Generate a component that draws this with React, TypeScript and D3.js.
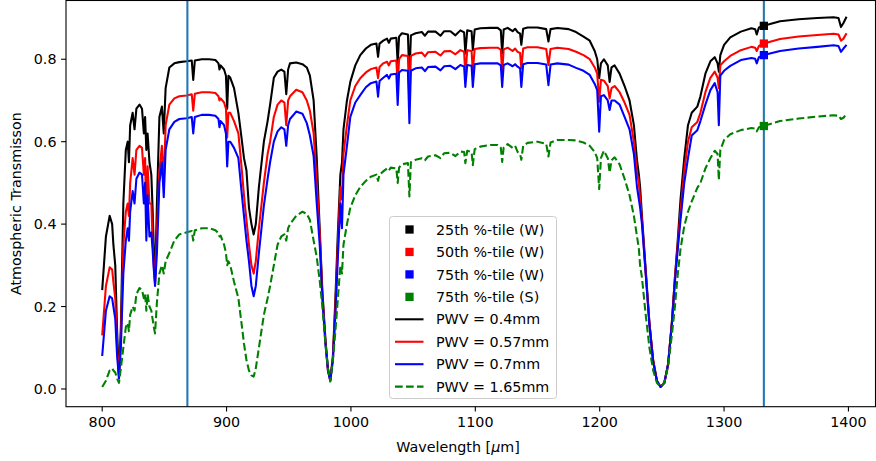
import React from 'react';
import * as d3 from 'd3';

const wavelengths = [
  800, 803, 806, 808, 809, 810.5, 812, 813.5, 815, 817,
  819, 820.5, 821.5, 822.5, 824.5, 826, 827.5, 830, 832, 833.5,
  834.5, 835.5, 836.5, 838, 839.5, 840.5, 841.5, 842.5, 844, 846,
  848, 849.5, 851, 854, 858, 862, 868, 872, 873.2, 874.5,
  880, 886, 891, 893.5, 894.3, 895.2, 898, 899.5, 900.5, 901.5,
  903, 906, 909.5, 912, 914, 916, 918, 920, 921.8, 923.5,
  926, 930, 933, 935, 938, 941, 944, 946.5, 948, 949.5,
  951, 956, 961, 964.5, 967, 970, 972.5, 975, 977, 979.5,
  981.5, 983.4, 985.5, 987.5, 989.5, 991.5, 992.8, 994, 996.8, 999.5,
  1003.5, 1007.5, 1012, 1016, 1020.5, 1021.8, 1023, 1026, 1029, 1030.5,
  1032, 1036.5, 1037.6, 1038.7, 1041, 1045.8, 1047, 1048.2, 1052, 1057,
  1059.5, 1062, 1068, 1072, 1075, 1080, 1084, 1088, 1091, 1092,
  1093.5, 1097, 1098, 1099.5, 1104, 1112, 1118, 1120.5, 1121.6, 1122.8,
  1126, 1130, 1132, 1134, 1136, 1137, 1138.5, 1142, 1150, 1157,
  1158.8, 1160.5, 1166, 1175, 1181, 1187, 1192, 1196, 1198, 1199.6,
  1201, 1203.4, 1206.5, 1208, 1209.5, 1212, 1216, 1220, 1224, 1227.5,
  1230, 1231.5, 1232.5, 1234, 1237, 1240, 1243, 1246, 1249, 1252,
  1255, 1258, 1260.5, 1262.5, 1265, 1268, 1271, 1274, 1278.5, 1281,
  1285, 1289, 1292.5, 1294.8, 1295.8, 1297, 1300, 1305, 1313.5, 1322,
  1325, 1326.3, 1328, 1332, 1345, 1360, 1375, 1388, 1392, 1394,
  1396, 1398.5,
];

const pwv040 = [
  0.24, 0.37, 0.42, 0.40, 0.35, 0.30, 0.14, 0.03, 0.15, 0.45,
  0.58, 0.60, 0.55, 0.64, 0.67, 0.63, 0.68, 0.69, 0.68, 0.62,
  0.66, 0.58, 0.62, 0.55, 0.52, 0.44, 0.34, 0.26, 0.45, 0.66,
  0.685, 0.62, 0.73, 0.78, 0.79, 0.793, 0.795, 0.797, 0.75, 0.797,
  0.80, 0.80, 0.798, 0.79, 0.775, 0.785, 0.775, 0.76, 0.68, 0.76,
  0.755, 0.73, 0.67, 0.61, 0.56, 0.53, 0.44, 0.40, 0.375, 0.40,
  0.49, 0.60, 0.65, 0.69, 0.755, 0.77, 0.775, 0.77, 0.715, 0.775,
  0.79, 0.792, 0.788, 0.78, 0.76, 0.70, 0.56, 0.38, 0.24, 0.12,
  0.05, 0.022, 0.08, 0.22, 0.38, 0.52, 0.55, 0.63, 0.70, 0.745,
  0.785, 0.81, 0.826, 0.835, 0.838, 0.806, 0.838, 0.845, 0.85, 0.84,
  0.85, 0.852, 0.79, 0.855, 0.863, 0.86, 0.754, 0.858, 0.863, 0.866,
  0.857, 0.867, 0.867, 0.857, 0.868, 0.868, 0.858, 0.87, 0.865, 0.814,
  0.87, 0.868, 0.822, 0.872, 0.875, 0.876, 0.876, 0.87, 0.814, 0.872,
  0.876, 0.868, 0.874, 0.866, 0.862, 0.835, 0.874, 0.877, 0.877, 0.873,
  0.843, 0.873, 0.876, 0.873, 0.866, 0.855, 0.845, 0.82, 0.80, 0.754,
  0.79, 0.80, 0.785, 0.745, 0.78, 0.785, 0.765, 0.735, 0.70, 0.64,
  0.555, 0.52, 0.49, 0.42, 0.29, 0.16, 0.07, 0.02, 0.005, 0.015,
  0.06, 0.16, 0.27, 0.35, 0.46, 0.56, 0.64, 0.67, 0.685, 0.71,
  0.765, 0.795, 0.805, 0.79, 0.77, 0.81, 0.835, 0.853, 0.867, 0.875,
  0.873, 0.86, 0.877, 0.881, 0.892, 0.897, 0.90, 0.902, 0.90, 0.878,
  0.888, 0.903,
];

const pwv057 = [
  0.13, 0.25, 0.295, 0.29, 0.26, 0.22, 0.10, 0.03, 0.12, 0.35,
  0.43, 0.45, 0.42, 0.50, 0.56, 0.52, 0.58, 0.59, 0.585, 0.52,
  0.56, 0.40, 0.54, 0.45, 0.45, 0.36, 0.30, 0.255, 0.38, 0.53,
  0.59, 0.50, 0.64, 0.69, 0.705, 0.71, 0.712, 0.715, 0.675, 0.716,
  0.72, 0.72, 0.718, 0.71, 0.70, 0.705, 0.695, 0.68, 0.61, 0.67,
  0.67, 0.65, 0.62, 0.54, 0.47, 0.41, 0.35, 0.30, 0.28, 0.31,
  0.39, 0.50, 0.57, 0.60, 0.66, 0.69, 0.70, 0.695, 0.64, 0.70,
  0.71, 0.726, 0.72, 0.70, 0.675, 0.62, 0.50, 0.37, 0.23, 0.115,
  0.045, 0.02, 0.075, 0.20, 0.35, 0.49, 0.46, 0.57, 0.64, 0.70,
  0.735, 0.754, 0.768, 0.776, 0.78, 0.754, 0.781, 0.79, 0.794, 0.785,
  0.795, 0.797, 0.737, 0.80, 0.81, 0.808, 0.697, 0.808, 0.814, 0.816,
  0.807, 0.817, 0.818, 0.809, 0.819, 0.82, 0.812, 0.822, 0.818, 0.758,
  0.822, 0.82, 0.77, 0.825, 0.827, 0.828, 0.828, 0.823, 0.766, 0.824,
  0.828, 0.82, 0.826, 0.818, 0.815, 0.778, 0.826, 0.829, 0.829, 0.825,
  0.786, 0.825, 0.828, 0.825, 0.818, 0.81, 0.80, 0.78, 0.765, 0.697,
  0.75, 0.748, 0.735, 0.705, 0.73, 0.735, 0.72, 0.695, 0.665, 0.60,
  0.525, 0.50, 0.46, 0.41, 0.28, 0.16, 0.07, 0.02, 0.005, 0.015,
  0.06, 0.16, 0.27, 0.34, 0.43, 0.53, 0.60, 0.635, 0.648, 0.67,
  0.72, 0.755, 0.77, 0.755, 0.73, 0.785, 0.795, 0.808, 0.822, 0.83,
  0.828, 0.82, 0.832, 0.838, 0.849, 0.855, 0.859, 0.862, 0.86, 0.845,
  0.85, 0.863,
];

const pwv070 = [
  0.08, 0.19, 0.225, 0.22, 0.20, 0.17, 0.08, 0.025, 0.10, 0.28,
  0.36, 0.39, 0.36, 0.43, 0.48, 0.45, 0.51, 0.525, 0.52, 0.45,
  0.50, 0.36, 0.47, 0.37, 0.38, 0.34, 0.29, 0.25, 0.33, 0.50,
  0.55, 0.465, 0.58, 0.63, 0.648, 0.655, 0.657, 0.66, 0.62, 0.66,
  0.665, 0.665, 0.663, 0.655, 0.635, 0.65, 0.64, 0.62, 0.54, 0.60,
  0.60, 0.585, 0.56, 0.48, 0.42, 0.36, 0.31, 0.25, 0.225, 0.25,
  0.33, 0.445, 0.51, 0.55, 0.60, 0.625, 0.635, 0.63, 0.59, 0.64,
  0.655, 0.673, 0.668, 0.645, 0.615, 0.565, 0.45, 0.345, 0.22, 0.11,
  0.045, 0.02, 0.07, 0.18, 0.32, 0.45, 0.39, 0.52, 0.59, 0.66,
  0.695, 0.713, 0.732, 0.742, 0.746, 0.709, 0.747, 0.755, 0.762, 0.753,
  0.763, 0.765, 0.689, 0.768, 0.774, 0.772, 0.645, 0.772, 0.778, 0.78,
  0.771, 0.781, 0.782, 0.773, 0.783, 0.784, 0.776, 0.786, 0.782, 0.733,
  0.786, 0.784, 0.733, 0.788, 0.79, 0.79, 0.79, 0.785, 0.733, 0.786,
  0.79, 0.783, 0.788, 0.782, 0.778, 0.733, 0.788, 0.791, 0.791, 0.787,
  0.737, 0.787, 0.79, 0.787, 0.779, 0.772, 0.762, 0.74, 0.725, 0.624,
  0.71, 0.713, 0.70, 0.677, 0.70, 0.70, 0.69, 0.66, 0.63, 0.57,
  0.49, 0.46, 0.44, 0.40, 0.28, 0.155, 0.065, 0.02, 0.005, 0.015,
  0.06, 0.155, 0.26, 0.33, 0.41, 0.50, 0.56, 0.615, 0.628, 0.65,
  0.69, 0.725, 0.742, 0.72, 0.64, 0.76, 0.772, 0.784, 0.798, 0.803,
  0.801, 0.79, 0.805, 0.81, 0.82, 0.826, 0.83, 0.834, 0.832, 0.818,
  0.826, 0.835,
];

const pwv165 = [
  0.005, 0.02, 0.045, 0.05, 0.045, 0.04, 0.025, 0.015, 0.05, 0.10,
  0.15, 0.16, 0.14, 0.18, 0.20, 0.19, 0.23, 0.245, 0.24, 0.22,
  0.23, 0.19, 0.23, 0.20, 0.19, 0.17, 0.15, 0.135, 0.21, 0.28,
  0.30, 0.28, 0.31, 0.33, 0.36, 0.375, 0.38, 0.383, 0.36, 0.385,
  0.39, 0.39, 0.385, 0.378, 0.37, 0.372, 0.35, 0.33, 0.30, 0.31,
  0.30, 0.26, 0.22, 0.16, 0.11, 0.07, 0.045, 0.033, 0.03, 0.05,
  0.10, 0.18, 0.22, 0.25, 0.30, 0.35, 0.37, 0.375, 0.36, 0.39,
  0.40, 0.42, 0.43, 0.425, 0.41, 0.36, 0.32, 0.26, 0.20, 0.11,
  0.05, 0.018, 0.07, 0.14, 0.22, 0.30, 0.28, 0.35, 0.40, 0.44,
  0.47, 0.49, 0.505, 0.515, 0.52, 0.505, 0.52, 0.528, 0.535, 0.53,
  0.537, 0.535, 0.50, 0.537, 0.545, 0.548, 0.467, 0.55, 0.556, 0.56,
  0.555, 0.564, 0.567, 0.56, 0.572, 0.573, 0.565, 0.576, 0.575, 0.548,
  0.578, 0.575, 0.543, 0.582, 0.588, 0.592, 0.592, 0.585, 0.551, 0.586,
  0.594, 0.585, 0.59, 0.575, 0.57, 0.556, 0.59, 0.597, 0.60, 0.595,
  0.564, 0.598, 0.604, 0.604, 0.603, 0.598, 0.59, 0.575, 0.56, 0.485,
  0.56, 0.578, 0.56, 0.525, 0.555, 0.562, 0.545, 0.51, 0.47, 0.42,
  0.37, 0.34, 0.30, 0.27, 0.18, 0.10, 0.045, 0.015, 0.005, 0.015,
  0.055, 0.13, 0.20, 0.27, 0.34, 0.395, 0.43, 0.455, 0.488, 0.50,
  0.535, 0.56, 0.578, 0.57, 0.507, 0.58, 0.604, 0.618, 0.628, 0.633,
  0.632, 0.625, 0.635, 0.638, 0.65, 0.656, 0.661, 0.664, 0.663, 0.655,
  0.658, 0.667,
];

const markerWavelength = 1332;
const markerValues = [0.881, 0.838, 0.81, 0.638];
const markerLabels = ['25th %-tile (W)', '50th %-tile (W)', '75th %-tile (W)', '75th %-tile (S)'];
const lineLabels = ['PWV = 0.4mm', 'PWV = 0.57mm', 'PWV = 0.7mm', 'PWV = 1.65mm'];
const seriesColors = ['#000000', '#ff0000', '#0000ff', '#008000'];
const verticalLines = [868.5, 1332];
const xTicks = [800, 900, 1000, 1100, 1200, 1300, 1400];
const yTicks = [0.0, 0.2, 0.4, 0.6, 0.8];

export default function App() {
  const W = 876;
  const H = 461;
  const L = 66, T = 0.5, B = 406.7, R = 875.5;
  const x = d3.scaleLinear().domain([770.9, 1429]).range([L, 884.5]);
  const y = d3.scaleLinear().domain([-0.043, 0.9425]).range([B, T]);
  const allSeries = [pwv040, pwv057, pwv070, pwv165];
  const line = d3.line<number>()
    .x((_, i) => x(wavelengths[i]))
    .y((d) => y(d));
  const font = '"DejaVu Sans", sans-serif';
  const fs = 14.3;
  const lgX = 389.5, lgY = 216.5, lgW = 167, lgH = 182;
  const rowY = (i: number) => 229.5 + i * 22.45;
  const ms = 8.3;

  return (
    <svg width={W} height={H} style={{ position: 'absolute', left: 0, top: 0, background: '#fff' }}
      fontFamily={font}>
      <rect x={0} y={0} width={W} height={H} fill="#fff" />
      <defs>
        <clipPath id="plotclip">
          <rect x={L} y={T} width={R - L} height={B - T} />
        </clipPath>
      </defs>
      <g clipPath="url(#plotclip)">
        {allSeries.map((vals, i) => (
          <path key={i} d={line(vals) || ''} fill="none" stroke={seriesColors[i]}
            strokeWidth={2.08} strokeLinejoin="round"
            strokeDasharray={i === 3 ? '7.7 3.3' : undefined} />
        ))}
        {verticalLines.map((v) => (
          <line key={v} x1={x(v)} x2={x(v)} y1={T} y2={B} stroke="#1f77b4" strokeWidth={2.08} />
        ))}
        {markerValues.map((v, i) => (
          <rect key={i} x={x(markerWavelength) - ms / 2} y={y(v) - ms / 2} width={ms} height={ms}
            fill={seriesColors[i]} />
        ))}
      </g>
      <rect x={L} y={T} width={R - L} height={B - T} fill="none" stroke="#000" strokeWidth={1.1} />
      {xTicks.map((t) => (
        <g key={t}>
          <line x1={x(t)} x2={x(t)} y1={B} y2={B + 4.9} stroke="#000" strokeWidth={1.1} />
          <text x={x(t)} y={B + 20.5} textAnchor="middle" fontSize={fs} fill="#000">{t}</text>
        </g>
      ))}
      {yTicks.map((t) => (
        <g key={t}>
          <line x1={L - 4.9} x2={L} y1={y(t)} y2={y(t)} stroke="#000" strokeWidth={1.1} />
          <text x={L - 9.5} y={y(t)} dy="0.36em" textAnchor="end" fontSize={fs} fill="#000">{t.toFixed(1)}</text>
        </g>
      ))}
      <text x={458} y={452} textAnchor="middle" fontSize={fs} fill="#000">
        Wavelength [<tspan fontStyle="italic">μ</tspan>m]
      </text>
      <text transform={`translate(21, ${(T + B) / 2}) rotate(-90)`} textAnchor="middle" fontSize={fs} fill="#000">
        Atmospheric Transmisson
      </text>
      <rect x={lgX} y={lgY} width={lgW} height={lgH} rx={3} fill="#fff" fillOpacity={0.8}
        stroke="#cccccc" strokeWidth={1} />
      {markerLabels.map((lab, i) => (
        <g key={lab}>
          <rect x={409.5 - ms / 2} y={rowY(i) - ms / 2} width={ms} height={ms} fill={seriesColors[i]} />
          <text x={436} y={rowY(i)} dy="0.36em" fontSize={fs} fill="#000">{lab}</text>
        </g>
      ))}
      {lineLabels.map((lab, i) => (
        <g key={lab}>
          <line x1={395} x2={423.5} y1={rowY(i + 4)} y2={rowY(i + 4)} stroke={seriesColors[i]}
            strokeWidth={2.08} strokeDasharray={i === 3 ? '7.7 3.3' : undefined} />
          <text x={436} y={rowY(i + 4)} dy="0.36em" fontSize={fs} fill="#000">{lab}</text>
        </g>
      ))}
    </svg>
  );
}
